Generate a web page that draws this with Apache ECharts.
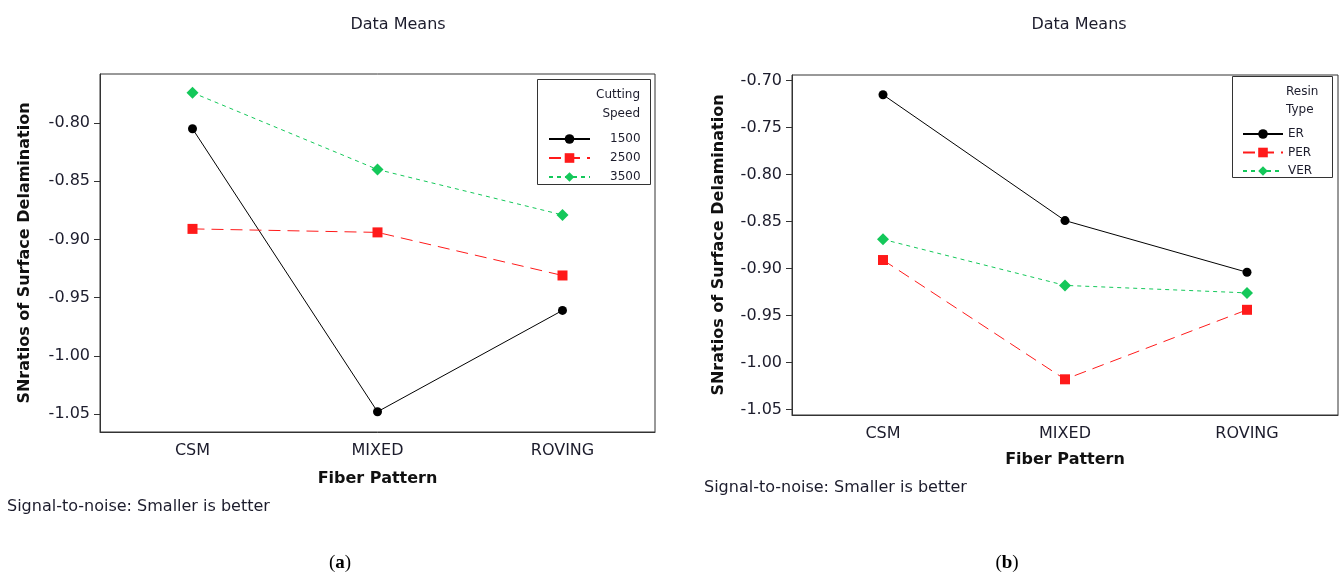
<!DOCTYPE html>
<html>
<head>
<meta charset="utf-8">
<script src="https://cdn.jsdelivr.net/npm/echarts@6/dist/echarts.min.js"></script>
<style>
  html, body { margin: 0; padding: 0; background: #fff; }
  #chart { width: 1341px; height: 575px; }
</style>
</head>
<body>
<div id="chart"></div>
<script>
// Main effects plots for SN ratios of surface delamination
const fiberPatterns = ['CSM', 'MIXED', 'ROVING'];

// (a) Cutting speed
const speedNames = ['1500', '2500', '3500'];
const speed1500 = [-0.805, -1.048, -0.961];
const speed2500 = [-0.891, -0.894, -0.931];
const speed3500 = [-0.774, -0.840, -0.879];
const ticksA = [-1.05, -1.00, -0.95, -0.90, -0.85, -0.80];

// (b) Resin type
const resinNames = ['ER', 'PER', 'VER'];
const resinER = [-0.715, -0.849, -0.904];
const resinPER = [-0.891, -1.018, -0.944];
const resinVER = [-0.869, -0.918, -0.926];
const ticksB = [-1.05, -1.00, -0.95, -0.90, -0.85, -0.80, -0.75, -0.70];

const FONT = 'DejaVu Sans';
const TXT = '#1c1c2c';
const BLACK = '#000000';
const RED = '#ff1a1a';
const GREEN = '#14c85a';

const chart = echarts.init(document.getElementById('chart'));

function xAxisFor(gridIndex, nameGap) {
  return {
    type: 'category', gridIndex, data: fiberPatterns, boundaryGap: true,
    name: 'Fiber Pattern', nameLocation: 'middle', nameGap,
    nameTextStyle: { fontFamily: FONT, fontSize: 16, fontWeight: 'bold', color: '#111' },
    axisLine: { lineStyle: { color: '#333', width: 1 } },
    axisTick: { alignWithLabel: true, length: 5, lineStyle: { color: '#333' } },
    axisLabel: { fontFamily: FONT, fontSize: 16, color: TXT, margin: 11 },
    splitLine: { show: false }
  };
}

function yAxisFor(gridIndex, min, max, ticks, nameGap) {
  return {
    type: 'value', gridIndex, min, max,
    name: 'SNratios of Surface Delamination', nameLocation: 'middle', nameGap,
    nameTextStyle: { fontFamily: FONT, fontSize: 16, fontWeight: 'bold', color: '#111' },
    axisLine: { show: true, lineStyle: { color: '#333', width: 1 } },
    axisTick: { show: true, length: 6, customValues: ticks, lineStyle: { color: '#333' } },
    axisLabel: {
      fontFamily: FONT, fontSize: 16, color: TXT, margin: 10,
      customValues: ticks, formatter: v => v.toFixed(2)
    },
    splitLine: { show: false }
  };
}

function lineSeries(name, data, xi, color, symbol, size, dash, width) {
  return {
    type: 'line', name, data, xAxisIndex: xi, yAxisIndex: xi,
    symbol, symbolSize: size, showSymbol: true,
    itemStyle: { color },
    lineStyle: { color, width: width || 1, type: dash },
    emphasis: { disabled: true }, animation: false, z: 3
  };
}

const legendText = { fontFamily: FONT, fontSize: 12, color: TXT };
const headFont = '12px "DejaVu Sans"';
const noteFont = '16px "DejaVu Sans"';

chart.setOption({
  animation: false,
  title: [
    { text: 'Data Means', left: 393, top: 12, textAlign: 'center',
      textStyle: { fontFamily: FONT, fontSize: 16, fontWeight: 'normal', color: TXT } },
    { text: 'Data Means', left: 1074, top: 12, textAlign: 'center',
      textStyle: { fontFamily: FONT, fontSize: 16, fontWeight: 'normal', color: TXT } }
  ],
  grid: [
    { left: 100, top: 74, width: 555, height: 358, show: true, borderColor: '#333', borderWidth: 1, backgroundColor: 'transparent' },
    { left: 792, top: 75, width: 546, height: 340, show: true, borderColor: '#333', borderWidth: 1, backgroundColor: 'transparent' }
  ],
  xAxis: [xAxisFor(0, 39), xAxisFor(1, 37)],
  yAxis: [yAxisFor(0, -1.0654, -0.758, ticksA, 67), yAxisFor(1, -1.056, -0.694, ticksB, 65)],
  legend: [
    { data: speedNames, orient: 'vertical', left: 543, top: 128,
      itemWidth: 41, itemHeight: 12, itemGap: 7,
      textStyle: Object.assign({ padding: [0, 0, 0, 15] }, legendText),
      selectedMode: false },
    { data: resinNames, orient: 'vertical', left: 1237, top: 123,
      itemWidth: 40, itemHeight: 12, itemGap: 6.5,
      textStyle: Object.assign({ padding: [0, 0, 0, 0] }, legendText),
      selectedMode: false }
  ],
  series: [
    lineSeries(speedNames[0], speed1500, 0, BLACK, 'circle', 9, 'solid'),
    lineSeries(speedNames[1], speed2500, 0, RED, 'rect', 10, [12, 7]),
    lineSeries(speedNames[2], speed3500, 0, GREEN, 'diamond', 12, [4, 4]),
    lineSeries(resinNames[0], resinER, 1, BLACK, 'circle', 9, 'solid'),
    lineSeries(resinNames[1], resinPER, 1, RED, 'rect', 10, [12, 7]),
    lineSeries(resinNames[2], resinVER, 1, GREEN, 'diamond', 12, [4, 4])
  ],
  graphic: [
    // legend frames and headings
    { type: 'rect', shape: { x: 537.5, y: 79.5, width: 113, height: 105 },
      style: { fill: '#fff', stroke: '#333', lineWidth: 1 }, z: 1 },
    { type: 'text', x: 640, y: 95, style: { text: 'Cutting', font: headFont, fill: TXT, textAlign: 'right', textVerticalAlign: 'middle' }, z: 2 },
    { type: 'text', x: 640, y: 114, style: { text: 'Speed', font: headFont, fill: TXT, textAlign: 'right', textVerticalAlign: 'middle' }, z: 2 },
    { type: 'rect', shape: { x: 1232.5, y: 76.5, width: 100, height: 101 },
      style: { fill: '#fff', stroke: '#333', lineWidth: 1 }, z: 1 },
    { type: 'text', x: 1286, y: 92, style: { text: 'Resin', font: headFont, fill: TXT, textAlign: 'left', textVerticalAlign: 'middle' }, z: 2 },
    { type: 'text', x: 1286, y: 110, style: { text: 'Type', font: headFont, fill: TXT, textAlign: 'left', textVerticalAlign: 'middle' }, z: 2 },
    // footnotes
    { type: 'text', x: 7, y: 507, style: { text: 'Signal-to-noise: Smaller is better', font: noteFont, fill: TXT, textVerticalAlign: 'middle' } },
    { type: 'text', x: 704, y: 488, style: { text: 'Signal-to-noise: Smaller is better', font: noteFont, fill: TXT, textVerticalAlign: 'middle' } },
    // panel labels
    { type: 'text', x: 340, y: 563, style: { rich: { p: { font: '19px "Liberation Serif"', fill: '#000' }, b: { font: 'bold 19px "Liberation Serif"', fill: '#000' } }, text: '{p|(}{b|a}{p|)}', textAlign: 'center', textVerticalAlign: 'middle' } },
    { type: 'text', x: 1007, y: 563, style: { rich: { p: { font: '19px "Liberation Serif"', fill: '#000' }, b: { font: 'bold 19px "Liberation Serif"', fill: '#000' } }, text: '{p|(}{b|b}{p|)}', textAlign: 'center', textVerticalAlign: 'middle' } }
  ]
});
</script>
</body>
</html>
